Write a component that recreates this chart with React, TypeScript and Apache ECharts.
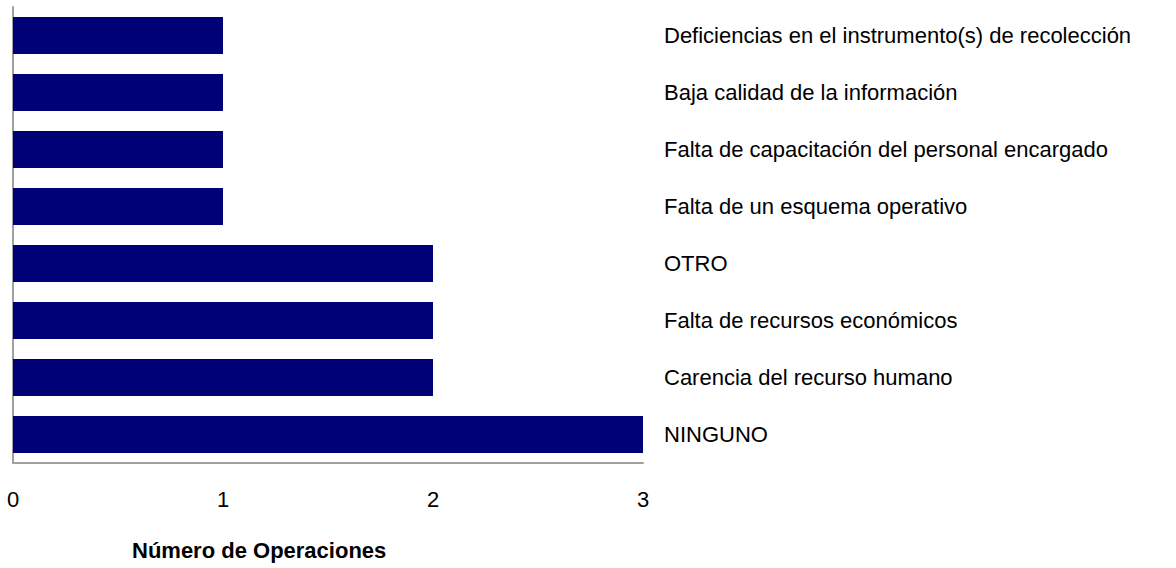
import React, { useEffect, useRef } from "react";
import * as echarts from "echarts";

const categories = [
  "NINGUNO",
  "Carencia del recurso humano",
  "Falta de recursos económicos",
  "OTRO",
  "Falta de un esquema operativo",
  "Falta de capacitación del personal encargado",
  "Baja calidad de la información",
  "Deficiencias en el instrumento(s) de recolección",
];
const values = [3, 2, 2, 2, 1, 1, 1, 1];
const xTicks = { min: 0, max: 3, interval: 1 };
const xAxisTitle = "Número de Operaciones";

const FONT = "'Liberation Sans', Arial, sans-serif";

export default function App() {
  const ref = useRef<HTMLDivElement>(null);
  useEffect(() => {
    if (!ref.current) return;
    const chart = echarts.init(ref.current, null, { renderer: "svg" });
    chart.setOption({
      animation: false,
      backgroundColor: "#ffffff",
      title: {
        text: xAxisTitle,
        left: 132,
        top: 539,
        padding: 0,
        textStyle: { fontFamily: FONT, fontSize: 22, fontWeight: "bold", color: "#000" },
      },
      grid: { left: 13, right: 533, top: 7, bottom: 105, containLabel: false },
      xAxis: {
        type: "value",
        min: xTicks.min,
        max: xTicks.max,
        interval: xTicks.interval,
        axisLine: { show: true, lineStyle: { color: "#a0a0a0", width: 2 } },
        axisTick: { show: false },
        splitLine: { show: false },
        axisLabel: { fontFamily: FONT, fontSize: 22, color: "#000", margin: 25 },
      },
      yAxis: [
        {
          type: "category",
          data: categories,
          position: "left",
          axisLine: { show: true, lineStyle: { color: "#a0a0a0", width: 2 } },
          axisTick: { show: false },
          axisLabel: { show: false },
        },
        {
          type: "category",
          data: categories,
          position: "right",
          axisLine: { show: false },
          axisTick: { show: false },
          axisLabel: { fontFamily: FONT, fontSize: 22, color: "#000", margin: 21, align: "left" },
        },
      ],
      series: [
        {
          type: "bar",
          data: values,
          yAxisIndex: 0,
          barCategoryGap: "35%",
          itemStyle: { color: "#000077" },
        },
      ],
    });
    return () => chart.dispose();
  }, []);
  return (
    <div
      ref={ref}
      style={{ position: "absolute", left: 0, top: 0, width: 1176, height: 568 }}
    />
  );
}
